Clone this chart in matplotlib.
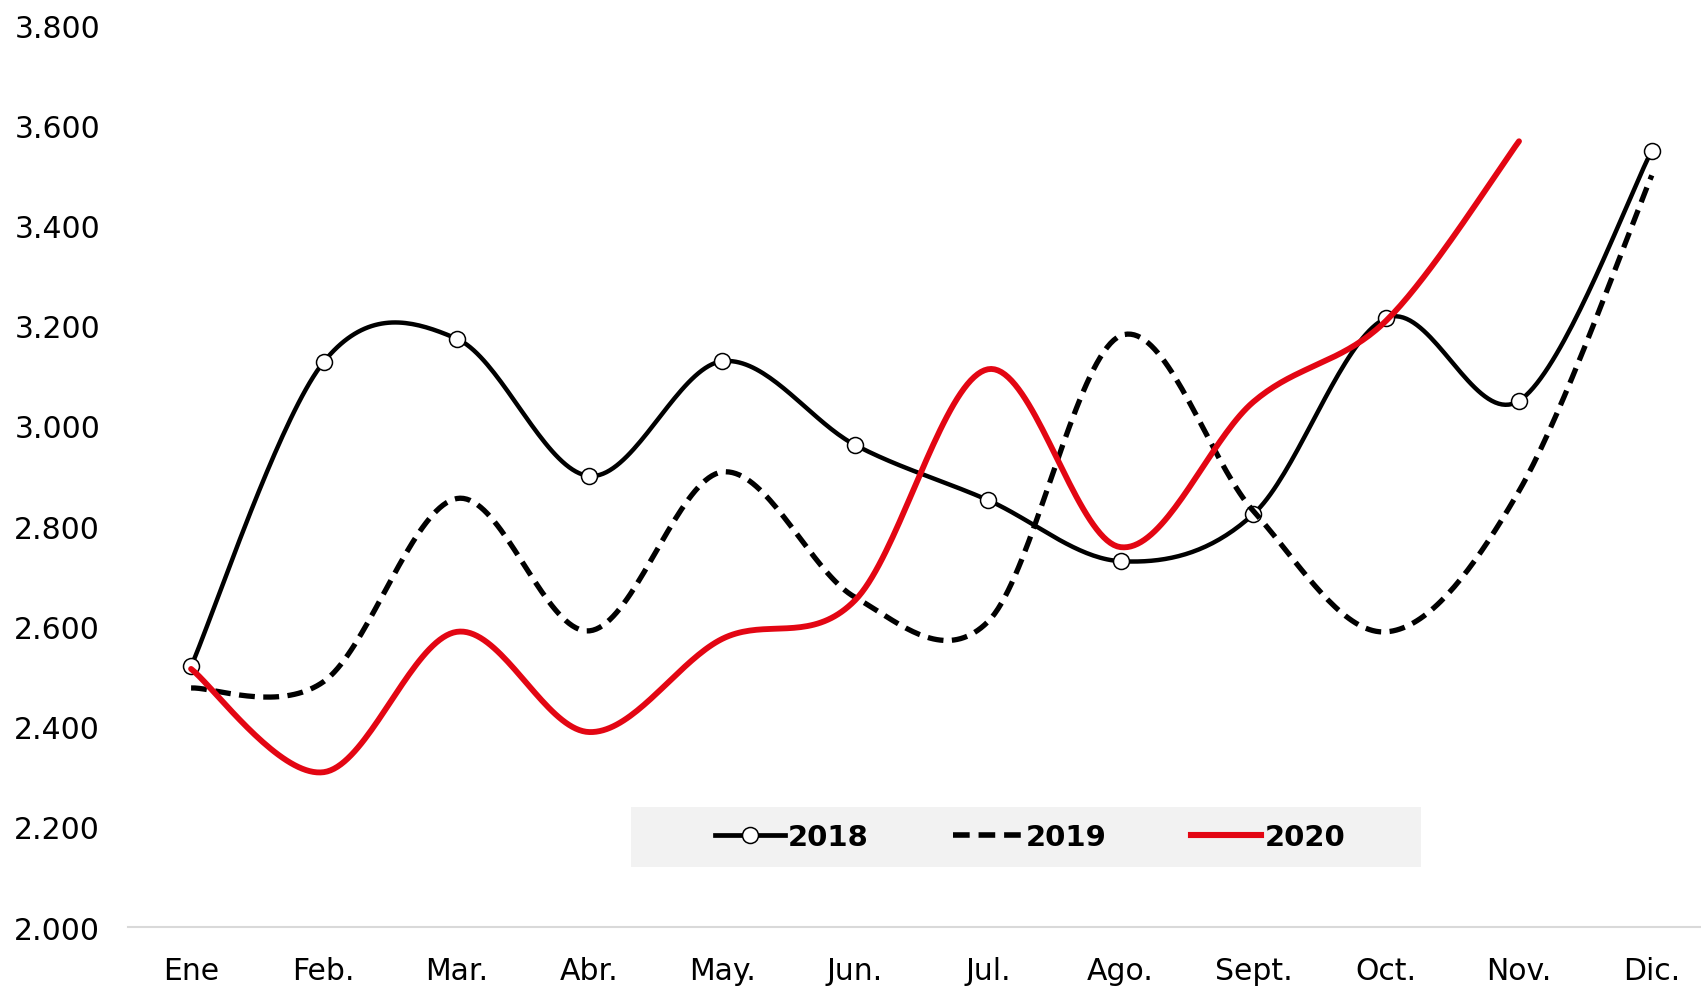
import matplotlib
matplotlib.use("Agg")
import matplotlib.pyplot as plt
import matplotlib.patches as mpatches
from matplotlib.lines import Line2D
from matplotlib.ticker import FuncFormatter
import numpy as np

# --- Data ---
MONTHS = ["Ene", "Feb.", "Mar.", "Abr.", "May.", "Jun.", "Jul.", "Ago.",
          "Sept.", "Oct.", "Nov.", "Dic."]
Y2018 = [2520, 3128, 3174, 2900, 3129, 2962, 2852, 2730, 2824, 3215, 3050, 3549]
Y2019 = [2477, 2490, 2855, 2591, 2908, 2658, 2609, 3180, 2830, 2589, 2870, 3500]
Y2020 = [2515, 2309, 2589, 2389, 2575, 2652, 3113, 2758, 3048, 3210, 3568]

YTICKS = list(range(2000, 3801, 200))


def smooth(xs, ys, n=40):
    """Excel-like smoothed line: Catmull-Rom bezier segments."""
    x = np.asarray(xs, float)
    y = np.asarray(ys, float)
    px = np.concatenate([[x[0]], x, [x[-1]]])
    py = np.concatenate([[y[0]], y, [y[-1]]])
    out_x, out_y = [], []
    t = np.linspace(0, 1, n)
    for i in range(1, len(px) - 2):
        p0 = np.array([px[i], py[i]])
        p3 = np.array([px[i + 1], py[i + 1]])
        c1 = p0 + (np.array([px[i + 1], py[i + 1]]) - np.array([px[i - 1], py[i - 1]])) / 6
        c2 = p3 - (np.array([px[i + 2], py[i + 2]]) - np.array([px[i], py[i]])) / 6
        b = ((1 - t) ** 3)[:, None] * p0 + (3 * (1 - t) ** 2 * t)[:, None] * c1 \
            + (3 * (1 - t) * t ** 2)[:, None] * c2 + (t ** 3)[:, None] * p3
        out_x.extend(b[:, 0])
        out_y.extend(b[:, 1])
    return out_x, out_y


fig = plt.figure(figsize=(17.01, 9.87), dpi=100)
ax = fig.add_axes([128 / 1701, 1 - 928 / 987, 1 - 128 / 1701, (928 - 26) / 987])

x18 = np.arange(len(Y2018))
x19 = np.arange(len(Y2019))
x20 = np.arange(len(Y2020))

sx, sy = smooth(x18, Y2018)
ax.plot(sx, sy, color="black", lw=3.2, solid_capstyle="round", zorder=3)
ax.plot(x18, Y2018, ls="none", marker="o", ms=11.5, mfc="white", mec="black",
        mew=1.1, zorder=4)

sx, sy = smooth(x19, Y2019)
ax.plot(sx, sy, color="black", lw=3.8, ls=(0, (3, 1.6)), zorder=5)

sx, sy = smooth(x20, Y2020)
ax.plot(sx, sy, color="#e30613", lw=4.2, solid_capstyle="round", zorder=6)

# Axes
ax.set_xlim(-0.475, (1701 - 191) / 132.8)
ax.set_ylim(2000, 3800)
ax.set_yticks(YTICKS)
ax.yaxis.set_major_formatter(FuncFormatter(lambda v, p: f"{int(v):,}".replace(",", ".")))
ax.set_xticks(x18)
ax.set_xticklabels(MONTHS)
for s in ("top", "right", "left"):
    ax.spines[s].set_visible(False)
ax.spines["bottom"].set_color("#d9d9d9")
ax.spines["bottom"].set_linewidth(1.5)
ax.tick_params(axis="both", length=0, labelsize=21.5, colors="black")
ax.tick_params(axis="y", pad=20)
ax.tick_params(axis="x", pad=21)

# Legend (grey box drawn separately)
fig.patches.append(mpatches.Rectangle(
    (631 / 1701, 1 - 868 / 987), 790 / 1701, 60 / 987,
    transform=fig.transFigure, facecolor="#f2f2f2", edgecolor="none", zorder=1))

handles = [
    Line2D([0, 1, 2], [0, 0, 0], color="black", lw=3.4, marker="o", ms=11.5,
           mfc="white", mec="black", mew=1.1, markevery=[1]),
    Line2D([], [], color="black", lw=4.0, ls=(0, (3, 1.6))),
    Line2D([], [], color="#e30613", lw=4.4),
]
leg = fig.legend(handles, ["2018", "2019", "2020"], ncol=3, frameon=False,
                 loc="center", bbox_to_anchor=(1030 / 1701, 1 - 838 / 987),
                 prop={"weight": "bold", "size": 21},
                 handlelength=2.4, handletextpad=0.1, columnspacing=2.9)
leg.set_zorder(10)

fig.savefig("out.png", dpi=100)
